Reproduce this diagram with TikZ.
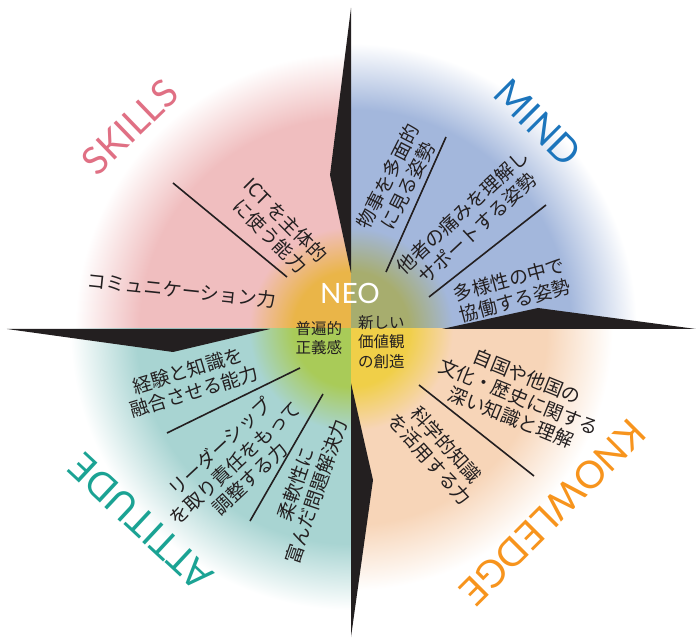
\documentclass[tikz,border=0pt]{standalone}
\usepackage{xcolor}
\usepackage{tikz}
\usepackage{fontspec}
\setmainfont{Lato}
\newfontfamily\jpfont{Noto Sans CJK JP}

\definecolor{paper}{rgb}{1,1,1}
\definecolor{skillpink}{HTML}{F0BEBF}
\definecolor{mindblue}{HTML}{A3B7DC}
\definecolor{attteal}{HTML}{A8D4D2}
\definecolor{knowpeach}{HTML}{F7D5B8}
\definecolor{neoorange}{HTML}{EAB548}
\definecolor{neoolive}{HTML}{A7AD6E}
\definecolor{neogreen}{HTML}{A9CB58}
\definecolor{neoyellow}{HTML}{F0CF48}
\definecolor{skilltext}{HTML}{E07084}
\definecolor{mindtext}{HTML}{1C75BC}
\definecolor{atttext}{HTML}{1BA394}
\definecolor{knowtext}{HTML}{F7941D}
\definecolor{inkdark}{HTML}{231F20}

\pgfdeclareradialshading{skillshade}{\pgfpointorigin}{color(0bp)=(neoorange); color(4.8bp)=(neoorange); color(8.5bp)=(skillpink); color(17.6bp)=(skillpink); color(23bp)=(paper); color(50bp)=(paper)}
\pgfdeclareradialshading{mindshade}{\pgfpointorigin}{color(0bp)=(neoolive); color(4.8bp)=(neoolive); color(8.5bp)=(mindblue); color(18.3bp)=(mindblue); color(23.8bp)=(paper); color(50bp)=(paper)}
\pgfdeclareradialshading{attshade}{\pgfpointorigin}{color(0bp)=(neogreen); color(4.8bp)=(neogreen); color(8.5bp)=(attteal); color(17.9bp)=(attteal); color(23.4bp)=(paper); color(50bp)=(paper)}
\pgfdeclareradialshading{knowshade}{\pgfpointorigin}{color(0bp)=(neoyellow); color(4.8bp)=(neoyellow); color(8.5bp)=(knowpeach); color(16.3bp)=(knowpeach); color(21.8bp)=(paper); color(50bp)=(paper)}

\begin{document}
\begin{tikzpicture}[x=1pt, y=1pt,
    jp/.style={font=\jpfont\fontsize{19}{22}\selectfont, text=inkdark, align=center, inner sep=0pt},
    jpsmall/.style={font=\jpfont\fontsize{15.5}{19.5}\selectfont, text=inkdark, inner sep=0pt},
    area/.style={font=\fontsize{38}{40}\selectfont, inner sep=0pt},
    divider/.style={line width=1.6pt, draw=inkdark},
    arm/.style={fill=inkdark}]
      \useasboundingbox (-351,-310) rectangle (345,329);

      \foreach \sx/\sy/\shd in {-1/1/skillshade, 1/1/mindshade, -1/-1/attshade, 1/-1/knowshade}{
        \begin{scope}
          \clip (0,0) rectangle (351*\sx, 329*\sy);
          \shade[shading=\shd] (0,0) circle[radius=300];
        \end{scope}
      }

      \fill[arm] (0,321) -- (-21,154) -- (0,56) -- cycle;
      \fill[arm] (345,0) -- (187,21) -- (91,0) -- cycle;
      \fill[arm] (0,-308) -- (22,-151) -- (0,-54) -- cycle;
      \fill[arm] (-344,0) -- (-178,-23) -- (-81,0) -- cycle;

      \foreach \ax/\ay/\bx/\by in {-178/146/-64/52, 95/192/35/57, 195/124/78/32,
                                   -51/-39/-184/-104, -28/-65/-101/-192, 68/-56/183/-147}{
        \draw[divider] (\ax,\ay) -- (\bx,\by);
      }

      \node[area, text=skilltext, rotate=44] (skills) at (-221,202) {SKILLS};
      \node[area, text=mindtext, rotate=-45] (mind) at (187,206) {MIND};
      \node[area, text=atttext, rotate=137] (attitude) at (-210,-193) {ATTITUDE};
      \node[area, text=knowtext, rotate=225] (knowledge) at (202,-183) {KNOWLEDGE};

      \node[jp, rotate=-45] (ict) at (-73,101) {ICT を主体的\\に使う能力};
      \node[jp, rotate=-6] (comm) at (-169,39) {コミュニケーション力};
      \node[jp, rotate=63] (tamen) at (47,148) {物事を多面的\\に見る姿勢};
      \node[jp, rotate=43] (tasha) at (119,109) {他者の痛みを理解し\\サポートする姿勢};
      \node[jp, rotate=15] (kyodo) at (161,39) {多様性の中で\\協働する姿勢};
      \node[jp, rotate=17] (yugo) at (-160,-52) {経験と知識を\\融合させる能力};
      \node[jp, rotate=43] (leader) at (-116,-134) {リーダーシップ\\を取り責任をもって\\調整する力};
      \node[jp, rotate=71] (junan) at (-45,-159) {柔軟性に\\富んだ問題解決力};
      \node[jp, rotate=-22] (bunka) at (168,-68) {自国や他国の\\文化・歴史に関する\\深い知識と理解};
      \node[jp, rotate=-48] (kagaku) at (87,-123) {科学的知識\\を活用する力};

      \node[font=\fontsize{28}{30}\selectfont, text=white, inner sep=0pt] (neo) at (-1,36) {NEO};
      \node[jpsmall, align=center] (seigi) at (-32,-9) {普遍的\\正義感};
      \node[jpsmall, align=left, anchor=west] (kachi) at (7,-13) {新しい\\価値観\\の創造};
    \end{tikzpicture}
\end{document}
